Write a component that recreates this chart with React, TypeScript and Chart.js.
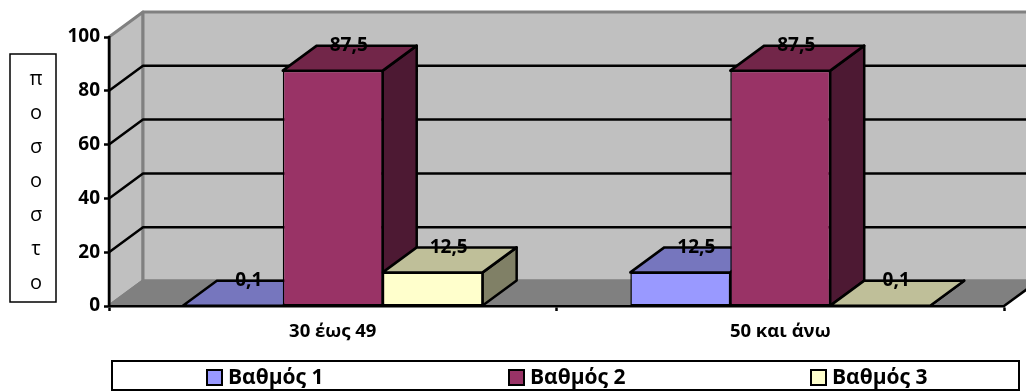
import React, { useEffect, useRef } from "react";
import { Chart, registerables } from "chart.js";

Chart.register(...registerables);

const categories = ["30 έως 49", "50 και άνω"];
const seriesLabels = ["Βαθμός 1", "Βαθμός 2", "Βαθμός 3"];
const grade1 = [0.1, 12.5];
const grade2 = [87.5, 87.5];
const grade3 = [12.5, 0.1];
const frontColors = ["#9999FF", "#993366", "#FFFFCC"];
const topColors = ["#7676BE", "#722649", "#BFBF99"];
const sideColors = ["#4D4D80", "#4D1933", "#808066"];
const yTitleLetters = ["π", "ο", "σ", "ο", "σ", "τ", "ο"];

const DX = 34;
const DY = -25;
const LINE = 2.5;
const FONT = '"Open Sans", "Noto Sans", sans-serif';

function poly(ctx: CanvasRenderingContext2D, pts: number[][], fill: string | null, stroke: string | null, lw = LINE) {
  ctx.beginPath();
  pts.forEach((p, i) => (i ? ctx.lineTo(p[0], p[1]) : ctx.moveTo(p[0], p[1])));
  ctx.closePath();
  if (fill) {
    ctx.fillStyle = fill;
    ctx.fill();
  }
  if (stroke) {
    ctx.strokeStyle = stroke;
    ctx.lineWidth = lw;
    ctx.lineJoin = "round";
    ctx.stroke();
  }
}

const threeD = {
  id: "threeD",
  beforeDraw(chart: any) {
    const { ctx, chartArea: a, scales } = chart;
    const y = scales.y;
    ctx.save();
    // side wall, back wall, floor
    poly(ctx, [[a.left, a.top], [a.left + DX, a.top + DY], [a.left + DX, a.bottom + DY], [a.left, a.bottom]], "#C0C0C0", "#808080", 3);
    poly(ctx, [[a.left + DX, a.top + DY], [a.right + DX, a.top + DY], [a.right + DX, a.bottom + DY], [a.left + DX, a.bottom + DY]], "#C0C0C0", "#808080", 3);
    poly(ctx, [[a.left, a.bottom], [a.left + DX, a.bottom + DY], [a.right + DX, a.bottom + DY], [a.right, a.bottom]], "#808080", null);
    ctx.strokeStyle = "#808080";
    ctx.lineWidth = 3;
    ctx.beginPath();
    ctx.moveTo(a.left, a.bottom);
    ctx.lineTo(a.left + DX, a.bottom + DY);
    ctx.lineTo(a.right + DX, a.bottom + DY);
    ctx.stroke();
    ctx.strokeStyle = "#000";
    ctx.lineWidth = LINE;
    ctx.beginPath();
    ctx.moveTo(a.right, a.bottom);
    ctx.lineTo(a.right + DX, a.bottom + DY);
    ctx.stroke();
    // gridlines on both walls
    y.ticks.forEach((t: any) => {
      if (t.value <= y.min || t.value >= y.max) return;
      const py = y.getPixelForValue(t.value);
      ctx.beginPath();
      ctx.moveTo(a.left, py);
      ctx.lineTo(a.left + DX, py + DY);
      ctx.lineTo(a.right + DX, py + DY);
      ctx.strokeStyle = "#000";
      ctx.lineWidth = LINE;
      ctx.stroke();
    });
    ctx.restore();
  },
  beforeDatasetsDraw(chart: any) {
    const { ctx } = chart;
    ctx.save();
    // sides and tops go left to right, the library then paints the front faces over them
    chart.data.datasets.forEach((_: any, i: number) => {
      chart.getDatasetMeta(i).data.forEach((bar: any) => {
        const { x, y, base, width } = bar.getProps(["x", "y", "base", "width"], true);
        const l = x - width / 2;
        const r = x + width / 2;
        poly(ctx, [[r, y], [r + DX, y + DY], [r + DX, base + DY], [r, base]], sideColors[i], "#000");
        poly(ctx, [[l, y], [l + DX, y + DY], [r + DX, y + DY], [r, y]], topColors[i], "#000");
      });
    });
    ctx.restore();
  },
  afterDatasetsDraw(chart: any) {
    const { ctx } = chart;
    ctx.save();
    ctx.fillStyle = "#000";
    ctx.textAlign = "center";
    ctx.textBaseline = "middle";
    ctx.font = `bold 19px ${FONT}`;
    chart.data.datasets.forEach((ds: any, i: number) => {
      chart.getDatasetMeta(i).data.forEach((bar: any, j: number) => {
        const { x, y } = bar.getProps(["x", "y"], true);
        ctx.fillText(String(ds.data[j]).replace(".", ","), x + 16, y + DY);
      });
    });
    ctx.restore();
  },
  afterDraw(chart: any) {
    const { ctx } = chart;
    ctx.save();
    // upright, stacked vertical axis title
    ctx.fillStyle = "#fff";
    ctx.fillRect(10, 54, 46, 248);
    ctx.strokeStyle = "#000";
    ctx.lineWidth = 1.5;
    ctx.strokeRect(10, 54, 46, 248);
    ctx.fillStyle = "#000";
    ctx.textAlign = "center";
    ctx.textBaseline = "middle";
    ctx.font = `20px ${FONT}`;
    yTitleLetters.forEach((c, i) => ctx.fillText(c, 36, 79 + i * 34));
    // legend
    ctx.fillStyle = "#fff";
    ctx.fillRect(112, 361, 907, 29);
    ctx.strokeStyle = "#000";
    ctx.lineWidth = 2;
    ctx.strokeRect(112, 361, 907, 29);
    ctx.textAlign = "left";
    ctx.font = `bold 21px ${FONT}`;
    chart.data.datasets.forEach((ds: any, i: number) => {
      const x = 207 + i * 302;
      ctx.fillStyle = ds.backgroundColor;
      ctx.fillRect(x, 370, 15, 15);
      ctx.strokeStyle = "#000";
      ctx.lineWidth = 2;
      ctx.strokeRect(x, 370, 15, 15);
      ctx.fillStyle = "#000";
      ctx.fillText(ds.label, x + 21, 378);
    });
    ctx.restore();
  },
};

export default function App() {
  const ref = useRef<HTMLCanvasElement>(null);
  useEffect(() => {
    document.body.style.margin = "0";
    const chart = new Chart(ref.current!, {
      type: "bar",
      data: {
        labels: categories,
        datasets: [grade1, grade2, grade3].map((data, i) => ({
          label: seriesLabels[i],
          data,
          backgroundColor: frontColors[i],
          borderColor: "#000",
          borderWidth: 1.5,
          borderSkipped: false,
          categoryPercentage: 0.67,
          barPercentage: 1,
        })),
      },
      options: {
        responsive: false,
        animation: false,
        layout: { padding: { left: 0, right: 22, top: 37, bottom: 0 } },
        plugins: { legend: { display: false }, tooltip: { enabled: false } },
        scales: {
          x: {
            afterFit: (s: any) => { s.height = 86; },
            grid: { drawOnChartArea: false, drawTicks: true, tickLength: 5, tickColor: "#000", tickWidth: LINE },
            border: { color: "#000", width: LINE },
            ticks: { color: "#000", font: { family: FONT, size: 18.5, weight: "bold" }, padding: 10, maxRotation: 0 },
          },
          y: {
            min: 0,
            max: 100,
            afterFit: (s: any) => { s.width = 109; },
            grid: { drawOnChartArea: false, drawTicks: true, tickLength: 5, tickColor: "#000", tickWidth: LINE },
            border: { color: "#000", width: LINE },
            ticks: { stepSize: 20, color: "#000", font: { family: FONT, size: 19, weight: "bold" }, padding: 4 },
          },
        },
      },
      plugins: [threeD],
    } as any);
    return () => chart.destroy();
  }, []);
  return <canvas ref={ref} width={1026} height={392} style={{ display: "block" }} />;
}
